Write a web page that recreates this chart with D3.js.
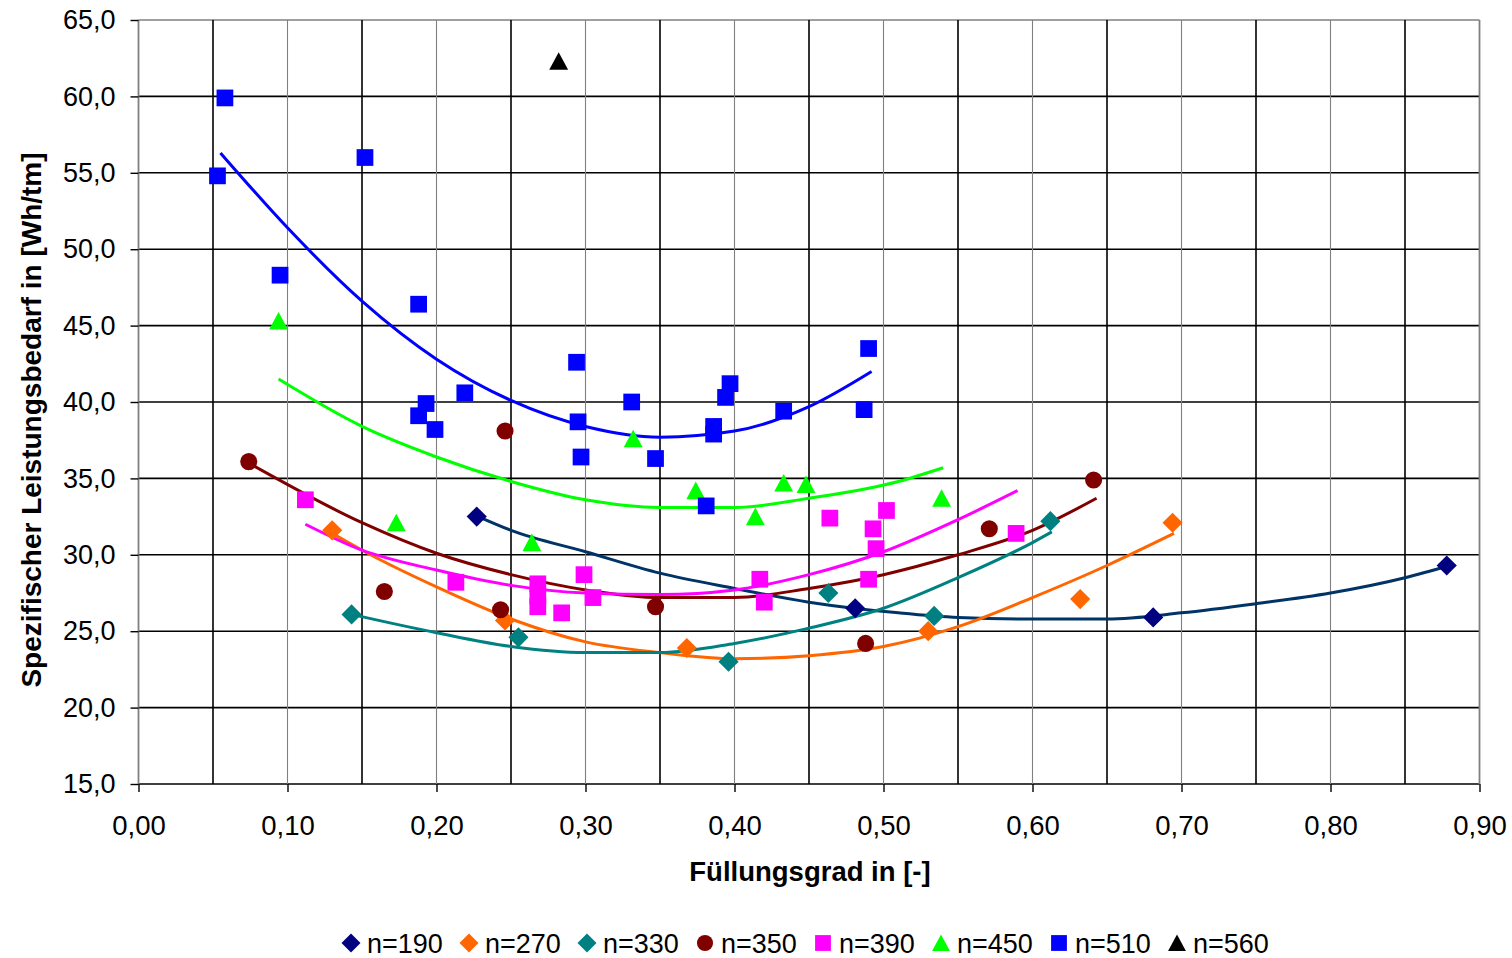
<!DOCTYPE html>
<html>
<head>
<meta charset="utf-8">
<script src="https://cdn.jsdelivr.net/npm/d3@7"></script>
<style>
    body { margin: 0; background: #fff; }
    text { font-family: "Liberation Sans", Arial, sans-serif; fill: #000; }
</style>
</head>
<body>
<div id="chart"></div>
<script>
// series labels, in legend order
const seriesNames = ["n=190", "n=270", "n=330", "n=350", "n=390", "n=450", "n=510", "n=560"];

// measured points [Füllungsgrad, Wh/tm]
const n190 = [[0.227, 32.5], [0.481, 26.5], [0.681, 25.9], [0.878, 29.3]];
const n270 = [[0.130, 31.6], [0.246, 25.7], [0.368, 23.9], [0.530, 25.0], [0.632, 27.1], [0.694, 32.1]];
const n330 = [[0.143, 26.1], [0.255, 24.6], [0.396, 23.0], [0.463, 27.5], [0.534, 26.0], [0.612, 32.2]];
const n350 = [[0.074, 36.1], [0.165, 27.6], [0.246, 38.1], [0.243, 26.4], [0.347, 26.6], [0.488, 24.2],
              [0.571, 31.7], [0.641, 34.9]];
const n390 = [[0.112, 33.6], [0.213, 28.2], [0.268, 28.1], [0.268, 27.3], [0.268, 26.6], [0.284, 26.2],
              [0.299, 28.7], [0.305, 27.2], [0.417, 28.4], [0.420, 26.9], [0.464, 32.4], [0.490, 28.4],
              [0.493, 31.7], [0.495, 30.4], [0.502, 32.9], [0.589, 31.4]];
const n450 = [[0.094, 45.3], [0.173, 32.1], [0.264, 30.8], [0.332, 37.6], [0.374, 34.2], [0.414, 32.5],
              [0.433, 34.7], [0.448, 34.6], [0.539, 33.7]];
const n510 = [[0.053, 54.8], [0.058, 59.9], [0.095, 48.3], [0.152, 56.0], [0.188, 46.4], [0.188, 39.1],
              [0.193, 39.9], [0.199, 38.2], [0.219, 40.6], [0.294, 42.6], [0.295, 38.7], [0.297, 36.4],
              [0.331, 40.0], [0.347, 36.3], [0.381, 33.2], [0.386, 38.4], [0.386, 37.9], [0.394, 40.3],
              [0.397, 41.2], [0.433, 39.4], [0.487, 39.5], [0.490, 43.5]];
const n560 = [[0.282, 62.3]];

// trend lines
const trend190 = [[0.228, 32.5], [0.25, 31.6], [0.30, 30.2], [0.35, 28.8], [0.40, 27.8], [0.45, 26.9],
                  [0.51, 26.2], [0.55, 25.9], [0.60, 25.8], [0.65, 25.8], [0.70, 26.2], [0.75, 26.8],
                  [0.80, 27.5], [0.85, 28.5], [0.88, 29.3]];
const trend270 = [[0.13, 31.4], [0.15, 30.3], [0.20, 27.9], [0.25, 25.8], [0.30, 24.3], [0.35, 23.6],
                  [0.40, 23.2], [0.45, 23.4], [0.50, 24.0], [0.55, 25.3], [0.60, 27.2], [0.65, 29.3],
                  [0.695, 31.4]];
const trend330 = [[0.143, 26.1], [0.20, 24.9], [0.25, 24.0], [0.30, 23.6], [0.35, 23.6], [0.40, 24.2],
                  [0.45, 25.2], [0.50, 26.5], [0.55, 28.5], [0.60, 30.8], [0.613, 31.5]];
const trend350 = [[0.074, 36.0], [0.15, 32.1], [0.20, 30.1], [0.25, 28.7], [0.30, 27.7], [0.35, 27.2],
                  [0.40, 27.2], [0.45, 27.8], [0.50, 28.7], [0.55, 30.0], [0.60, 31.6], [0.643, 33.7]];
const trend390 = [[0.112, 32.0], [0.15, 30.3], [0.20, 29.0], [0.25, 28.0], [0.30, 27.5], [0.35, 27.4],
                  [0.40, 27.7], [0.45, 28.7], [0.50, 30.2], [0.55, 32.3], [0.59, 34.2]];
const trend450 = [[0.094, 41.5], [0.15, 38.4], [0.20, 36.4], [0.25, 34.8], [0.30, 33.6], [0.35, 33.1],
                  [0.40, 33.1], [0.45, 33.7], [0.51, 34.8], [0.54, 35.7]];
const trend510 = [[0.055, 56.3], [0.10, 51.4], [0.15, 46.6], [0.20, 42.8], [0.25, 40.1], [0.30, 38.4],
                  [0.35, 37.7], [0.40, 38.1], [0.45, 39.7], [0.492, 42.0]];

// axis ticks
const xTicks = [0, 0.1, 0.2, 0.3, 0.4, 0.5, 0.6, 0.7, 0.8, 0.9];
const xMinor = [0.05, 0.15, 0.25, 0.35, 0.45, 0.55, 0.65, 0.75, 0.85];
const yTicks = [15, 20, 25, 30, 35, 40, 45, 50, 55, 60, 65];

const series = [
    { pts: n190, trend: trend190, color: "#000080", line: "#003366", shape: "diamond" },
    { pts: n270, trend: trend270, color: "#FF6600", line: "#FF6600", shape: "diamond" },
    { pts: n330, trend: trend330, color: "#008080", line: "#008080", shape: "diamond" },
    { pts: n350, trend: trend350, color: "#800000", line: "#800000", shape: "circle" },
    { pts: n390, trend: trend390, color: "#FF00FF", line: "#FF00FF", shape: "square" },
    { pts: n450, trend: trend450, color: "#00FF00", line: "#00FF00", shape: "triangle" },
    { pts: n510, trend: trend510, color: "#0000FF", line: "#0000FF", shape: "square" },
    { pts: n560, trend: null, color: "#000000", line: null, shape: "triangle" }
];

const W = 1512, H = 958;
const plotL = 138.5, plotR = 1479.5, plotT = 20, plotB = 784;

const svg = d3.select("#chart").append("svg")
    .attr("width", W)
    .attr("height", H);

const x = d3.scaleLinear().domain([0, 0.9]).range([plotL, plotR]);
const y = d3.scaleLinear().domain([15, 65]).range([plotB, plotT]);
const fmt = (d, n) => d.toFixed(n).replace(".", ",");

// marker path, centered at 0,0
function markerPath(shape, s) {
    const p = d3.path();
    if (shape === "diamond") {
        const d = s * 1.12;
        p.moveTo(0, -d); p.lineTo(d, 0); p.lineTo(0, d); p.lineTo(-d, 0); p.closePath();
    } else if (shape === "square") {
        p.rect(-s * 0.93, -s * 0.93, s * 1.86, s * 1.86);
    } else if (shape === "circle") {
        p.arc(0, 0, s * 0.95, 0, 2 * Math.PI);
    } else {
        p.moveTo(0, -s); p.lineTo(s * 1.05, s * 0.95); p.lineTo(-s * 1.05, s * 0.95); p.closePath();
    }
    return p.toString();
}

// grid
const grid = svg.append("g");
grid.selectAll(".hg").data(yTicks).enter().append("line")
    .attr("x1", plotL).attr("x2", plotR)
    .attr("y1", d => y(d)).attr("y2", d => y(d))
    .attr("stroke", d => d === 65 ? "#808080" : "#000")
    .attr("stroke-width", 1.6);
grid.selectAll(".vm").data(xMinor).enter().append("line")
    .attr("x1", d => x(d)).attr("x2", d => x(d))
    .attr("y1", plotT).attr("y2", plotB)
    .attr("stroke", "#000").attr("stroke-width", 1.6);
grid.selectAll(".vg").data(xTicks).enter().append("line")
    .attr("x1", d => x(d)).attr("x2", d => x(d))
    .attr("y1", plotT).attr("y2", plotB)
    .attr("stroke", "#808080").attr("stroke-width", d => (d === 0 || d === 0.9) ? 1.8 : 1.1);

// axes
const xAxis = svg.append("g")
    .attr("transform", `translate(0,${plotB})`)
    .call(d3.axisBottom(x).tickValues(xTicks).tickSize(8).tickPadding(23).tickFormat(d => fmt(d, 2)));
xAxis.select(".domain").remove();
xAxis.selectAll(".tick line").attr("stroke", "#000").attr("stroke-width", 1.4);
xAxis.selectAll("text").style("font-size", "27.5px").attr("fill", "#000");

const yAxis = svg.append("g")
    .attr("transform", `translate(${plotL},0)`)
    .call(d3.axisLeft(y).tickValues(yTicks).tickSize(8).tickPadding(15).tickFormat(d => fmt(d, 1)));
yAxis.select(".domain").remove();
yAxis.selectAll(".tick line").attr("stroke", "#000").attr("stroke-width", 1.4);
yAxis.selectAll("text").style("font-size", "27px").attr("fill", "#000");

// trend lines
const line = d3.line()
    .x(d => x(d[0]))
    .y(d => y(d[1]))
    .curve(d3.curveMonotoneX);

svg.append("g").selectAll("path")
    .data(series.filter(s => s.trend))
    .enter().append("path")
    .attr("d", d => line(d.trend))
    .attr("fill", "none")
    .attr("stroke", d => d.line)
    .attr("stroke-width", 3);

// markers
series.forEach(s => {
    svg.append("g").selectAll("path")
        .data(s.pts)
        .enter().append("path")
        .attr("transform", d => `translate(${x(d[0])},${y(d[1])})`)
        .attr("d", markerPath(s.shape, 9))
        .attr("fill", s.color);
});

// axis titles
svg.append("text")
    .attr("x", (plotL + plotR) / 2 + 1)
    .attr("y", 881)
    .attr("text-anchor", "middle")
    .style("font-size", "27.5px")
    .style("font-weight", "bold")
    .text("Füllungsgrad in [-]");

svg.append("text")
    .attr("transform", `translate(41,${(plotT + plotB) / 2 + 18}) rotate(-90)`)
    .attr("text-anchor", "middle")
    .style("font-size", "28px")
    .style("font-weight", "bold")
    .text("Spezifischer Leistungsbedarf in [Wh/tm]");

// legend
const legend = svg.append("g").selectAll("g")
    .data(series)
    .enter().append("g")
    .attr("transform", (d, i) => `translate(${351 + i * 118},943)`);

legend.append("path")
    .attr("d", d => markerPath(d.shape, 8.5))
    .attr("fill", d => d.color);

legend.append("text")
    .attr("x", 16)
    .attr("y", 10)
    .style("font-size", "27px")
    .text((d, i) => seriesNames[i]);
</script>
</body>
</html>
